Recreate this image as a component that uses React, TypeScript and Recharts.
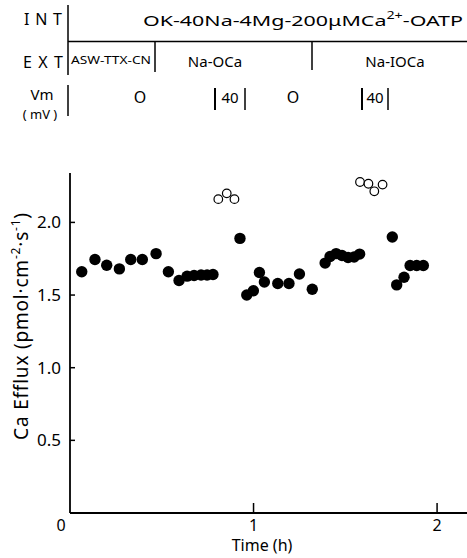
import { ScatterChart, Scatter, XAxis, YAxis } from "recharts";

// time (h) and Ca efflux (pmol·cm-2·s-1)
const filledTime = [
  0.064, 0.136, 0.2, 0.269, 0.331, 0.394, 0.469, 0.536, 0.594, 0.638, 0.676,
  0.714, 0.747, 0.779, 0.926, 0.963, 0.999, 1.032, 1.059, 1.132, 1.193, 1.25,
  1.32, 1.39, 1.417, 1.45, 1.482, 1.515, 1.548, 1.578, 1.756, 1.78, 1.82,
  1.853, 1.889, 1.925,
];
const filledFlux = [
  1.66, 1.745, 1.705, 1.68, 1.745, 1.745, 1.785, 1.66, 1.6, 1.63, 1.635,
  1.638, 1.638, 1.641, 1.89, 1.5, 1.53, 1.655, 1.59, 1.58, 1.58, 1.645, 1.54,
  1.72, 1.765, 1.785, 1.772, 1.758, 1.762, 1.782, 1.9, 1.57, 1.623, 1.703,
  1.703, 1.703,
];
// -40 mV periods
const openTime = [0.808, 0.854, 0.896, 1.58, 1.626, 1.658, 1.703];
const openFlux = [2.16, 2.2, 2.16, 2.278, 2.266, 2.214, 2.26];

const xTicks = [0, 1, 2];
const yTicks = [0.5, 1.0, 1.5, 2.0];

const W = 467;
const H = 558;
const LEFT = 70;
const TOP = 173;
const BOTTOM = 513;
const X_MAX = 2.163;
const Y_MAX = 2.34;
const FONT = "'Noto Sans', sans-serif";

const filled = filledTime.map((t, i) => ({ t, flux: filledFlux[i] }));
const open = openTime.map((t, i) => ({ t, flux: openFlux[i] }));

function YTick({ y, payload }: any) {
  return (
    <g>
      <line x1={LEFT} x2={LEFT + 5} y1={y} y2={y} stroke="#000" strokeWidth={1.5} />
      <text x={61} y={y + 6} textAnchor="end" fontSize={17} fontFamily={FONT} fill="#000">
        {payload.value.toFixed(1)}
      </text>
    </g>
  );
}

function XTick({ x, payload }: any) {
  const v = payload.value;
  return (
    <g>
      {v !== 0 && (
        <line x1={x} x2={x} y1={BOTTOM - 10} y2={BOTTOM} stroke="#000" strokeWidth={1.5} />
      )}
      <text x={v === 0 ? x - 9 : x} y={531} textAnchor="middle" fontSize={16} fontFamily={FONT} fill="#000">
        {v}
      </text>
    </g>
  );
}

const Dot = ({ cx, cy }: any) => <circle cx={cx} cy={cy} r={5.7} fill="#000" />;
const Ring = ({ cx, cy }: any) => (
  <circle cx={cx} cy={cy} r={4.3} fill="#fff" stroke="#000" strokeWidth={1.2} />
);

// header above the plot (solution/voltage protocol)
function Header() {
  const txt = { fontFamily: FONT, fill: "#000" };
  return (
    <svg width={W} height={H} style={{ position: "absolute", left: 0, top: 0, pointerEvents: "none" }}>
      <g {...txt}>
        <text x={24} y={25} fontSize={16} textLength={38}>INT</text>
        <text x={143} y={26} fontSize={15} textLength={320} lengthAdjust="spacingAndGlyphs">
          OK-40Na-4Mg-200μMCa
          <tspan dy={-7} fontSize={10}>2+</tspan>
          <tspan dy={7}>-OATP</tspan>
        </text>
        <text x={23} y={68} fontSize={16} textLength={40}>EXT</text>
        <text x={71} y={64} fontSize={11} textLength={80} lengthAdjust="spacingAndGlyphs">ASW-TTX-CN</text>
        <text x={215} y={67} fontSize={15} textAnchor="middle">Na-OCa</text>
        <text x={395} y={67} fontSize={15} textAnchor="middle">Na-IOCa</text>
        <text x={42} y={100} fontSize={15} textAnchor="middle">Vm</text>
        <text x={40} y={119} fontSize={13} textAnchor="middle">( mV )</text>
        <text x={140} y={103} fontSize={16} textAnchor="middle">O</text>
        <text x={230} y={103} fontSize={15} textAnchor="middle">40</text>
        <text x={293} y={103} fontSize={16} textAnchor="middle">O</text>
        <text x={375} y={103} fontSize={15} textAnchor="middle">40</text>
        <text x={262} y={551} fontSize={16} textAnchor="middle">Time (h)</text>
        <text
          transform="translate(28 326) rotate(-90)"
          fontSize={19}
          letterSpacing={0.8}
          textAnchor="middle"
        >
          Ca Efflux (pmol·cm
          <tspan dy={-8} fontSize={12}>-2</tspan>
          <tspan dy={8}>·s</tspan>
          <tspan dy={-8} fontSize={12}>-1</tspan>
          <tspan dy={8}>)</tspan>
        </text>
      </g>
      <g stroke="#000" strokeWidth={1.5}>
        <line x1={68} x2={68} y1={5} y2={75} />
        <line x1={68} x2={W} y1={41.5} y2={41.5} />
        <line x1={155} x2={155} y1={42} y2={72} />
        <line x1={312} x2={312} y1={42} y2={70} />
        <line x1={68} x2={68} y1={85} y2={116} />
        <line x1={215} x2={215} y1={88} y2={110} strokeWidth={2} />
        <line x1={245} x2={245} y1={88} y2={110} />
        <line x1={362} x2={362} y1={88} y2={110} strokeWidth={2} />
        <line x1={388} x2={388} y1={88} y2={110} />
      </g>
    </svg>
  );
}

export default function App() {
  return (
    <div style={{ position: "absolute", left: 0, top: 0, width: W, height: H, background: "#fff" }}>
      <ScatterChart width={W} height={H} margin={{ top: TOP, right: 0, bottom: 0, left: 0 }}>
        <XAxis
          type="number"
          dataKey="t"
          domain={[0, X_MAX]}
          ticks={xTicks}
          allowDataOverflow
          height={H - BOTTOM}
          axisLine={{ stroke: "#000", strokeWidth: 2 }}
          tickLine={false}
          tick={<XTick />}
        />
        <YAxis
          type="number"
          dataKey="flux"
          domain={[0, Y_MAX]}
          ticks={yTicks}
          allowDataOverflow
          width={LEFT}
          axisLine={{ stroke: "#000", strokeWidth: 1.8 }}
          tickLine={false}
          tick={<YTick />}
        />
        <Scatter data={filled} shape={<Dot />} isAnimationActive={false} />
        <Scatter data={open} shape={<Ring />} isAnimationActive={false} />
      </ScatterChart>
      <Header />
    </div>
  );
}
